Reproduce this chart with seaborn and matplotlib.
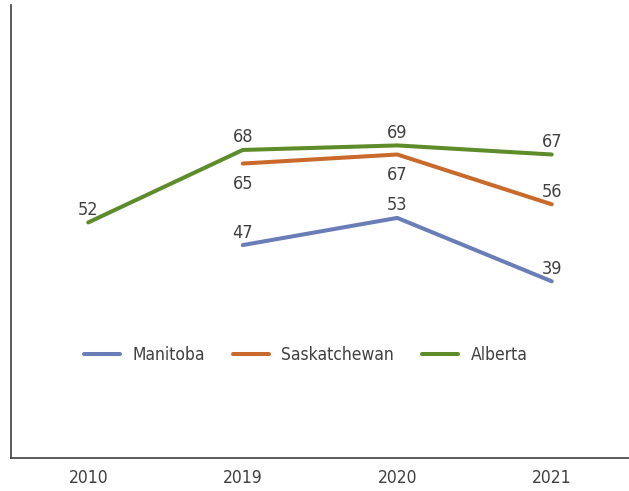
import numpy as np
import pandas as pd
import matplotlib
matplotlib.use("Agg")
import matplotlib.pyplot as plt
import seaborn as sns

# chart values
years = ["2010", "2019", "2020", "2021"]
manitoba = [np.nan, 47, 53, 39]
saskatchewan = [np.nan, 65, 67, 56]
alberta = [52, 68, 69, 67]

provinces = ["Manitoba", "Saskatchewan", "Alberta"]
colors = ["#6a7db8", "#c9692a", "#5e8c2a"]

df = pd.DataFrame({"Year": years, "Manitoba": manitoba,
                   "Saskatchewan": saskatchewan, "Alberta": alberta})
long_df = df.melt(id_vars="Year", var_name="Province", value_name="Value")
long_df["x"] = long_df["Year"].map({y: i for i, y in enumerate(years)})

sns.set_style("white")
plt.rcParams["font.family"] = ["DejaVu Sans"]
plt.rcParams["font.stretch"] = "condensed"

fig = plt.figure(figsize=(6.29, 4.91), dpi=100)
ax = fig.add_axes([11 / 629, 1 - 458 / 491, 618 / 629, 453 / 491])

sns.lineplot(data=long_df.dropna(), x="x", y="Value", hue="Province",
             hue_order=provinces, palette=colors, linewidth=2.9, ax=ax,
             legend=True)

text_col = "#404040"
for prov, vals in zip(provinces, [manitoba, saskatchewan, alberta]):
    for i, v in enumerate(vals):
        if np.isnan(v):
            continue
        below = prov == "Saskatchewan" and i in (1, 2)
        ax.annotate(f"{v:g}", (i, v), xytext=(0, -15 if below else 9),
                    textcoords="offset points", ha="center",
                    va="center", fontsize=13, color=text_col)

ax.set_xlim(-0.5, 3.5)
ax.set_ylim(0, 100)
ax.set_xticks(range(len(years)))
ax.set_xticklabels(years, fontsize=12.5, color=text_col)
ax.set_yticks([])
ax.set_xlabel("")
ax.set_ylabel("")
ax.tick_params(axis="x", length=0, pad=8)
for s in ["top", "right"]:
    ax.spines[s].set_visible(False)
for s in ["left", "bottom"]:
    ax.spines[s].set_color("#404040")
    ax.spines[s].set_linewidth(1.2)

leg = ax.legend(loc="center left", bbox_to_anchor=(0.118, 0.228), ncol=3,
                frameon=False, fontsize=12.5, handlelength=2.1,
                columnspacing=1.6, handletextpad=0.7, borderaxespad=0,
                borderpad=0)
for t in leg.get_texts():
    t.set_color(text_col)

fig.savefig("out.png", dpi=100)
